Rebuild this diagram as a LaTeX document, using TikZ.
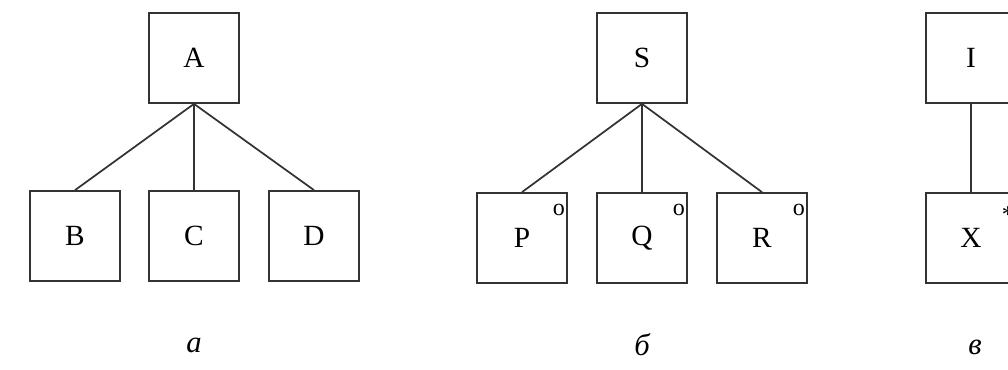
\documentclass[tikz,border=0pt]{standalone}
\usepackage{fontspec}
\setmainfont{Liberation Serif}

\begin{document}
\begin{tikzpicture}[
    x=0.75pt, y=-0.75pt,
    block/.style={
        draw=black!80,
        line width=1.3pt,
        minimum size=67.5pt,  % 方框边长
        inner sep=0pt,
        font=\fontsize{22}{26}\selectfont
    },
    corner tag/.style={
        inner sep=0pt,
        font=\fontsize{18}{20}\selectfont
    },
    caption/.style={
        font=\itshape\fontsize{23}{26}\selectfont
    },
    link/.style={draw=black!80, line width=1.3pt}
]
    % 画布范围（右侧被截断）
    \useasboundingbox (0,0) rectangle (1008,369);
    \clip (0,0) rectangle (1008,369);

    % a: 顺序
    \node[block] (A) at (194, 58)  {A};
    \node[block] (B) at (75, 236)  {B};
    \node[block] (C) at (194, 236) {C};
    \node[block] (D) at (314, 236) {D};
    \draw[link] (A.south) -- (B.north);
    \draw[link] (A.south) -- (C.north);
    \draw[link] (A.south) -- (D.north);
    \node[caption] (capa) at (194, 345) {а};

    % б: 选择
    \node[block] (S) at (642, 58)  {S};
    \node[block] (P) at (522, 238) {P};
    \node[block] (Q) at (642, 238) {Q};
    \node[block] (R) at (762, 238) {R};
    \draw[link] (S.south) -- (P.north);
    \draw[link] (S.south) -- (Q.north);
    \draw[link] (S.south) -- (R.north);
    \node[corner tag] (tagP) at ([shift={(-9,18)}]P.north east) {o};
    \node[corner tag] (tagQ) at ([shift={(-9,18)}]Q.north east) {o};
    \node[corner tag] (tagR) at ([shift={(-9,18)}]R.north east) {o};
    \node[caption] (capb) at (642, 345) {б};

    % в: 重复
    \node[block] (I) at (971, 58)  {I};
    \node[block] (X) at (971, 238) {X};
    \draw[link] (I.south) -- (X.north);
    \node[corner tag] (tagX) at ([shift={(-9,23)}]X.north east) {*};
    \node[caption] (capc) at (975, 347) {в};
\end{tikzpicture}
\end{document}
